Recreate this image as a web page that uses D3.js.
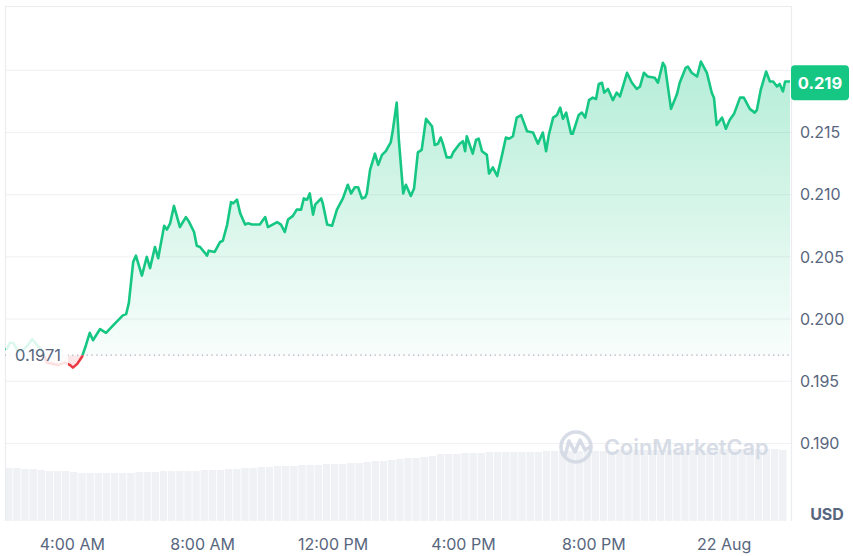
<!DOCTYPE html>
<html>
<head>
<meta charset="utf-8">
<script src="https://cdn.jsdelivr.net/npm/d3@7"></script>
<style>
  html, body { margin: 0; padding: 0; background: #fff; }
  svg { display: block; font-family: Inter, "Noto Sans", sans-serif; }
</style>
</head>
<body>
<svg width="853" height="556"></svg>
<script>
//data: minutes after 00:00 UTC on 21 Aug, and price in USD
const minutes = [119,126,132,141,150,159,167,176,185,194,205,215,227,237,242,250,259,266,273,279,
  292,303,316,325,334,340,345,353,358,369,378,384,393,399,410,415,421,428,439,450,
  456,465,470,476,489,492,503,513,518,526,533,537,544,550,559,564,572,586,596,601,
  618,625,632,638,647,654,662,667,673,678,684,688,699,702,710,719,728,739,748,754,
  761,767,774,780,783,789,798,804,811,818,827,831,838,842,850,855,864,870,877,884,
  892,903,908,914,919,923,930,938,942,954,960,964,967,978,984,989,995,1004,1008,1015,
  1023,1032,1039,1045,1052,1059,1067,1078,1089,1098,1107,1113,1118,1126,1133,1139,1144,1150,1159,1162,
  1173,1179,1185,1192,1199,1205,1210,1216,1220,1227,1236,1243,1249,1262,1271,1280,1286,1293,1300,1313,
  1319,1328,1332,1343,1354,1359,1370,1374,1381,1391,1398,1409,1418,1422,1427,1437,1444,1451,1459,1470,
  1477,1488,1497,1501,1508,1518,1525,1531,1538,1543,1549,1553,1556,1562];
const prices = [0.1975,0.1981,0.1981,0.1974,0.1975,0.1979,0.1984,0.1979,0.1975,0.1965,0.1964,0.1963,0.1965,0.1963,0.1961,0.1964,0.1970,0.1979,0.1989,0.1983,
  0.1992,0.1989,0.1995,0.1999,0.2003,0.2004,0.2013,0.2046,0.2051,0.2035,0.2050,0.2041,0.2058,0.2049,0.2075,0.2072,0.2077,0.2091,0.2074,0.2082,
  0.2078,0.2070,0.2059,0.2058,0.2051,0.2055,0.2054,0.2062,0.2063,0.2076,0.2094,0.2093,0.2096,0.2085,0.2076,0.2077,0.2076,0.2076,0.2082,0.2074,
  0.2078,0.2076,0.2070,0.2080,0.2083,0.2088,0.2088,0.2097,0.2096,0.2101,0.2084,0.2092,0.2097,0.2093,0.2076,0.2075,0.2088,0.2097,0.2108,0.2101,
  0.2106,0.2106,0.2097,0.2098,0.2101,0.2120,0.2133,0.2124,0.2132,0.2135,0.2142,0.2152,0.2174,0.2144,0.2101,0.2108,0.2099,0.2105,0.2134,0.2136,
  0.2161,0.2155,0.2140,0.2141,0.2146,0.2141,0.2130,0.2130,0.2134,0.2141,0.2143,0.2135,0.2147,0.2133,0.2144,0.2145,0.2135,0.2132,0.2117,0.2122,
  0.2115,0.2132,0.2146,0.2145,0.2147,0.2162,0.2164,0.2151,0.2150,0.2141,0.2150,0.2135,0.2148,0.2162,0.2164,0.2170,0.2161,0.2166,0.2149,0.2149,
  0.2164,0.2166,0.2162,0.2176,0.2178,0.2177,0.2189,0.2190,0.2182,0.2185,0.2176,0.2182,0.2179,0.2198,0.2190,0.2185,0.2187,0.2198,0.2195,0.2194,
  0.2190,0.2206,0.2203,0.2169,0.2181,0.2190,0.2202,0.2203,0.2198,0.2195,0.2207,0.2198,0.2182,0.2178,0.2156,0.2162,0.2153,0.2160,0.2165,0.2178,
  0.2178,0.2169,0.2166,0.2168,0.2184,0.2199,0.2191,0.2191,0.2187,0.2189,0.2183,0.2191,0.2191,0.2191];
//volume per 15 minutes starting 01:57 (relative units)
const volumes = [53,53,52,52,51,50,50,50,49,48,48,48,48,48,48,48,49,49,49,50,
  50,50,50,50,51,51,51,52,52,53,53,54,54,55,55,55,56,56,56,57,
  57,57,58,58,59,60,60,61,62,63,63,64,65,67,67,67,68,68,68,69,
  69,69,69,69,69,69,70,70,70,70,70,70,70,70,70,71,71,71,71,71,
  71,71,71,71,71,71,71,72,72,72,72,72,72,72,72,71];
const yTicks = [0.190, 0.195, 0.200, 0.205, 0.210, 0.215];
const yGrid = [0.190, 0.195, 0.200, 0.205, 0.210, 0.215, 0.220];
const openPrice = 0.1971;
const lastPrice = 0.219;
const startMin = 117, endMin = 1562;

const green = '#16c784', red = '#ea3943', textCol = '#58667e';
const toDate = m => new Date(Date.UTC(2024, 7, 21) + m * 60000);
const points = minutes.map((m, i) => ({t: toDate(m), p: prices[i]}));

const svg = d3.select('svg');
const plotL = 5, plotR = 791, plotT = 6, plotB = 521;

const x = d3.scaleUtc().domain([toDate(startMin), toDate(endMin)]).range([plotL, plotR - 1]);
const y = d3.scaleLinear().domain([0.190, 0.220]).range([443.5, 70.3]);
const yVol = d3.scaleLinear().domain([0, 100]).range([plotB, plotB - 100]);

const defs = svg.append('defs');
const grad = defs.append('linearGradient').attr('id', 'gfill')
  .attr('gradientUnits', 'userSpaceOnUse').attr('x1', 0).attr('x2', 0).attr('y1', 60).attr('y2', y(openPrice));
grad.append('stop').attr('offset', 0).attr('stop-color', green).attr('stop-opacity', 0.32);
grad.append('stop').attr('offset', 1).attr('stop-color', green).attr('stop-opacity', 0.03);
defs.append('clipPath').attr('id', 'above').append('rect')
  .attr('x', plotL).attr('y', plotT).attr('width', plotR - plotL).attr('height', y(openPrice) - plotT);
defs.append('clipPath').attr('id', 'below').append('rect')
  .attr('x', plotL).attr('y', y(openPrice)).attr('width', plotR - plotL).attr('height', plotB - y(openPrice));

//volume bars
const step = x(toDate(startMin + 15)) - x(toDate(startMin));
svg.append('g').selectAll('rect').data(volumes).enter().append('rect')
  .attr('x', (d, i) => x(toDate(startMin + i * 15)))
  .attr('width', step - 0.8)
  .attr('y', d => yVol(d))
  .attr('height', d => plotB - yVol(d))
  .attr('fill', '#eff1f5');

//grid and frame
svg.append('g').selectAll('line').data(yGrid).enter().append('line')
  .attr('x1', plotL).attr('x2', plotR)
  .attr('y1', d => y(d)).attr('y2', d => y(d))
  .attr('stroke', '#eff1f4').attr('stroke-width', 1);
svg.append('path')
  .attr('d', `M${plotL + 0.5},${plotB}V${plotT + 0.5}H${plotR + 0.5}V${plotB}`)
  .attr('fill', 'none').attr('stroke', '#eaecef').attr('stroke-width', 1.2);

//watermark
const wm = svg.append('g').attr('opacity', 0.9);
wm.append('circle').attr('cx', 576).attr('cy', 447).attr('r', 15)
  .attr('fill', 'none').attr('stroke', '#d3d9e4').attr('stroke-width', 3.5);
wm.append('path').attr('d', 'M565,456 L569,441 L575,452 L580,440 L585,450 L590,447')
  .attr('fill', 'none').attr('stroke', '#d3d9e4').attr('stroke-width', 3.5)
  .attr('stroke-linejoin', 'round').attr('stroke-linecap', 'round');
wm.append('text').attr('x', 604).attr('y', 455).text('CoinMarketCap')
  .attr('font-size', 21.8).attr('font-weight', 600).attr('fill', '#d3d9e4');

//area + line
const area = d3.area().x(d => x(d.t)).y0(y(openPrice)).y1(d => y(d.p));
const line = d3.line().x(d => x(d.t)).y(d => y(d.p));

svg.append('path').datum(points).attr('d', area)
  .attr('fill', 'url(#gfill)').attr('clip-path', 'url(#above)');
svg.append('path').datum(points).attr('d', area)
  .attr('fill', red).attr('fill-opacity', 0.12).attr('clip-path', 'url(#below)');

svg.append('line').attr('x1', plotL).attr('x2', plotR)
  .attr('y1', y(openPrice)).attr('y2', y(openPrice))
  .attr('stroke', '#a7b1c2').attr('stroke-width', 1.2).attr('stroke-dasharray', '1.3 3.5');

svg.append('path').datum(points).attr('d', line)
  .attr('fill', 'none').attr('stroke', green).attr('stroke-width', 2.6)
  .attr('stroke-linejoin', 'round').attr('clip-path', 'url(#above)');
svg.append('path').datum(points).attr('d', line)
  .attr('fill', 'none').attr('stroke', red).attr('stroke-width', 2.6)
  .attr('stroke-linejoin', 'round').attr('clip-path', 'url(#below)');

//open price label, with its pale backing
svg.append('rect').attr('x', plotL + 1).attr('y', y(openPrice) - 22).attr('width', 62).attr('height', 42)
  .attr('fill', '#fff').attr('fill-opacity', 0.85);
svg.append('text').attr('x', 15).attr('y', y(openPrice)).attr('dy', '0.35em')
  .attr('font-size', 16.5).attr('fill', textCol).text(d3.format('.4f')(openPrice));

//y axis labels
const yAxis = svg.append('g').attr('transform', `translate(${plotR + 9},0)`)
  .call(d3.axisRight(y).tickValues(yTicks).tickFormat(d3.format('.3f')).tickSize(0).tickPadding(0));
yAxis.select('.domain').remove();
yAxis.selectAll('text').attr('font-size', 16).attr('fill', textCol).attr('font-family', 'Inter, sans-serif');

//last price badge
svg.append('rect').attr('x', plotR).attr('y', y(lastPrice) - 17.5).attr('width', 58).attr('height', 35)
  .attr('rx', 4).attr('fill', green);
svg.append('text').attr('x', plotR + 29).attr('y', y(lastPrice)).attr('dy', '0.36em')
  .attr('text-anchor', 'middle').attr('font-size', 16.5).attr('font-weight', 700).attr('fill', '#fff')
  .text(d3.format('.3f')(lastPrice));

svg.append('text').attr('x', 827).attr('y', 514).attr('dy', '0.35em').attr('text-anchor', 'middle')
  .attr('font-size', 16).attr('font-weight', 700).attr('fill', textCol).text('USD');

//x axis
const fmtHour = d3.utcFormat('%-I:%M %p'), fmtDay = d3.utcFormat('%-d %b');
const xAxis = svg.append('g').attr('transform', `translate(0,${plotB})`)
  .call(d3.axisBottom(x).ticks(d3.utcHour.every(4)).tickSize(0).tickPadding(18)
    .tickFormat(d => d.getUTCHours() === 0 ? fmtDay(d) : fmtHour(d)));
xAxis.select('.domain').remove();
xAxis.selectAll('text').attr('font-size', 16).attr('fill', textCol).attr('font-family', 'Inter, sans-serif');
</script>
</body>
</html>
